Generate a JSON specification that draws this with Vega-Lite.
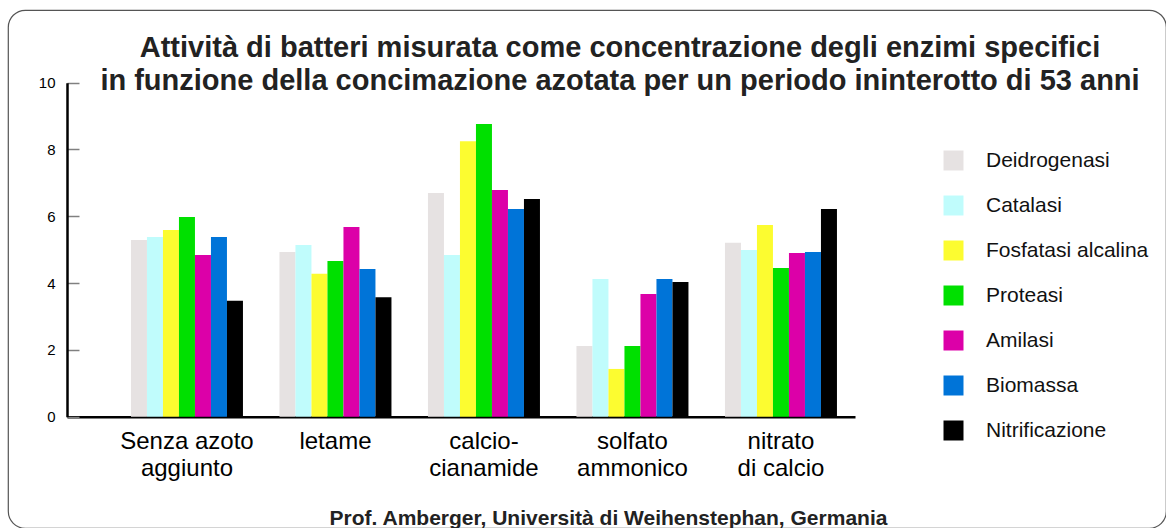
{
  "$schema": "https://vega.github.io/schema/vega-lite/v6.json",
  "autosize": {"type": "none"},
  "padding": {"left": 8, "top": 10, "right": 0, "bottom": 0},
  "width": 1158,
  "height": 518,
  "background": "white",
  "config": {
    "view": {"stroke": "#555555", "strokeWidth": 1.2, "cornerRadius": 17},
    "font": "Liberation Sans"
  },
  "title": {
    "text": ["Attività di batteri misurata come concentrazione degli enzimi specifici", "in funzione della concimazione azotata per un periodo ininterotto di 53 anni"],
    "fontSize": 29,
    "fontWeight": "bold",
    "font": "Liberation Sans",
    "color": "#222222",
    "lineHeight": 33,
    "anchor": "middle",
    "frame": "group",
    "baseline": "top",
    "offset": -86,
    "dx": 33
  },
  "data": {
    "values": [
      {"concimazione": "Senza azoto\naggiunto", "enzima": "Deidrogenasi", "valore": 5.29},
      {"concimazione": "Senza azoto\naggiunto", "enzima": "Catalasi", "valore": 5.38},
      {"concimazione": "Senza azoto\naggiunto", "enzima": "Fosfatasi alcalina", "valore": 5.59},
      {"concimazione": "Senza azoto\naggiunto", "enzima": "Proteasi", "valore": 5.98},
      {"concimazione": "Senza azoto\naggiunto", "enzima": "Amilasi", "valore": 4.84},
      {"concimazione": "Senza azoto\naggiunto", "enzima": "Biomassa", "valore": 5.38},
      {"concimazione": "Senza azoto\naggiunto", "enzima": "Nitrificazione", "valore": 3.47},
      {"concimazione": "letame", "enzima": "Deidrogenasi", "valore": 4.93},
      {"concimazione": "letame", "enzima": "Catalasi", "valore": 5.14},
      {"concimazione": "letame", "enzima": "Fosfatasi alcalina", "valore": 4.28},
      {"concimazione": "letame", "enzima": "Proteasi", "valore": 4.66},
      {"concimazione": "letame", "enzima": "Amilasi", "valore": 5.68},
      {"concimazione": "letame", "enzima": "Biomassa", "valore": 4.42},
      {"concimazione": "letame", "enzima": "Nitrificazione", "valore": 3.58},
      {"concimazione": "calcio-\ncianamide", "enzima": "Deidrogenasi", "valore": 6.70},
      {"concimazione": "calcio-\ncianamide", "enzima": "Catalasi", "valore": 4.84},
      {"concimazione": "calcio-\ncianamide", "enzima": "Fosfatasi alcalina", "valore": 8.25},
      {"concimazione": "calcio-\ncianamide", "enzima": "Proteasi", "valore": 8.76},
      {"concimazione": "calcio-\ncianamide", "enzima": "Amilasi", "valore": 6.79},
      {"concimazione": "calcio-\ncianamide", "enzima": "Biomassa", "valore": 6.22},
      {"concimazione": "calcio-\ncianamide", "enzima": "Nitrificazione", "valore": 6.52},
      {"concimazione": "solfato\nammonico", "enzima": "Deidrogenasi", "valore": 2.12},
      {"concimazione": "solfato\nammonico", "enzima": "Catalasi", "valore": 4.12},
      {"concimazione": "solfato\nammonico", "enzima": "Fosfatasi alcalina", "valore": 1.43},
      {"concimazione": "solfato\nammonico", "enzima": "Proteasi", "valore": 2.12},
      {"concimazione": "solfato\nammonico", "enzima": "Amilasi", "valore": 3.67},
      {"concimazione": "solfato\nammonico", "enzima": "Biomassa", "valore": 4.12},
      {"concimazione": "solfato\nammonico", "enzima": "Nitrificazione", "valore": 4.03},
      {"concimazione": "nitrato\ndi calcio", "enzima": "Deidrogenasi", "valore": 5.21},
      {"concimazione": "nitrato\ndi calcio", "enzima": "Catalasi", "valore": 4.99},
      {"concimazione": "nitrato\ndi calcio", "enzima": "Fosfatasi alcalina", "valore": 5.74},
      {"concimazione": "nitrato\ndi calcio", "enzima": "Proteasi", "valore": 4.45},
      {"concimazione": "nitrato\ndi calcio", "enzima": "Amilasi", "valore": 4.90},
      {"concimazione": "nitrato\ndi calcio", "enzima": "Biomassa", "valore": 4.93},
      {"concimazione": "nitrato\ndi calcio", "enzima": "Nitrificazione", "valore": 6.22}
    ]
  },
  "mark": {"type": "bar", "strokeWidth": 0},
  "encoding": {
    "x": {
      "field": "concimazione",
      "type": "nominal",
      "sort": null,
      "scale": {"range": [59, 847], "paddingInner": 0.2458, "paddingOuter": 0.2761, "align": 0.78},
      "axis": {
        "orient": "bottom",
        "offset": -111.3,
        "domainColor": "#000000",
        "domainWidth": 2.5,
        "ticks": false,
        "labelAngle": 0,
        "labelFontSize": 24,
        "labelFont": "Liberation Sans",
        "labelColor": "#000000",
        "labelLineHeight": 27,
        "labelPadding": 13,
        "labelExpr": "split(datum.label, '\\n')",
        "title": "Prof. Amberger, Università di Weihenstephan, Germania",
        "titleFont": "Liberation Sans",
        "titleFontSize": 21,
        "titleFontWeight": "bold",
        "titleColor": "#222222",
        "titleX": 600,
        "titleY": 108,
        "titleAlign": "center",
        "titleBaseline": "alphabetic",
        "titleLimit": 1000
      }
    },
    "xOffset": {
      "field": "enzima",
      "type": "nominal",
      "sort": ["Deidrogenasi", "Catalasi", "Fosfatasi alcalina", "Proteasi", "Amilasi", "Biomassa", "Nitrificazione"],
      "scale": {"paddingInner": 0, "paddingOuter": 0}
    },
    "y": {
      "field": "valore",
      "type": "quantitative",
      "scale": {"domain": [0, 10], "range": [406.7, 72.7], "nice": false},
      "axis": {
        "offset": -59,
        "values": [0, 2, 4, 6, 8, 10],
        "grid": false,
        "domainColor": "#000000",
        "domainWidth": 2.5,
        "tickColor": "#808080",
        "tickWidth": 1.5,
        "tickSize": -12,
        "labelPadding": 24,
        "labelFontSize": 15,
        "labelFont": "Liberation Sans",
        "labelColor": "#000000",
        "title": null
      }
    },
    "color": {
      "field": "enzima",
      "type": "nominal",
      "sort": ["Deidrogenasi", "Catalasi", "Fosfatasi alcalina", "Proteasi", "Amilasi", "Biomassa", "Nitrificazione"],
      "scale": {
        "domain": ["Deidrogenasi", "Catalasi", "Fosfatasi alcalina", "Proteasi", "Amilasi", "Biomassa", "Nitrificazione"],
        "range": ["#e6e2e2", "#c0fcfc", "#fcfc30", "#00e000", "#dc00a8", "#0074d8", "#000000"]
      },
      "legend": {
        "title": null,
        "orient": "none",
        "legendX": 935,
        "legendY": 140,
        "padding": 0,
        "symbolType": "square",
        "symbolSize": 400,
        "symbolStrokeWidth": 0,
        "symbolOpacity": 1,
        "labelFont": "Liberation Sans",
        "labelFontSize": 21,
        "labelColor": "#111111",
        "labelOffset": 22,
        "labelLimit": 300,
        "rowPadding": 23
      }
    }
  }
}
